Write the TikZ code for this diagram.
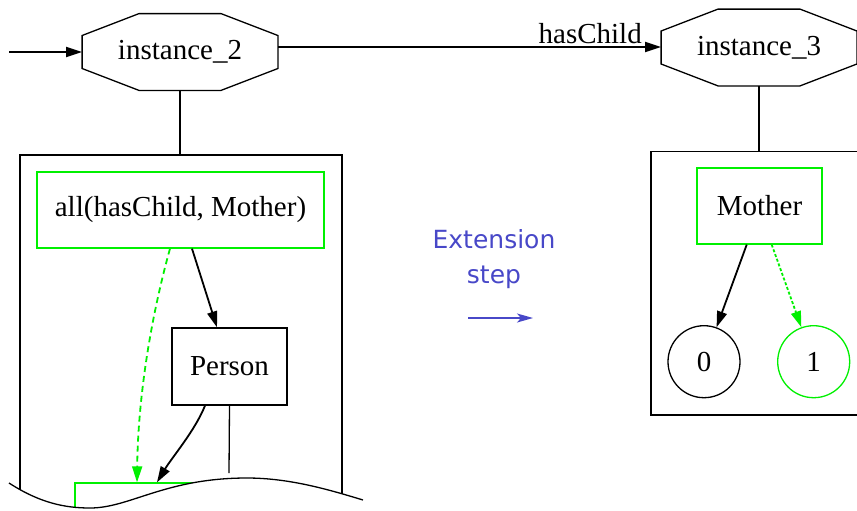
\documentclass[tikz,border=0pt]{standalone}
\usepackage{fontspec}
\setmainfont{Liberation Serif}
\newfontfamily\stepfont{DejaVu Sans}
\usepackage{tikz}
\usetikzlibrary{arrows.meta}
\definecolor{cutgreen}{RGB}{0,240,0}
\definecolor{stepblue}{RGB}{72,72,200}

% octagon frame around an instance node
\newcommand{\octframe}[1]{%
  \draw[frame] ([xshift=-20.5pt]#1.north) -- ([xshift=20.5pt]#1.north)
    -- ([yshift=8.25pt]#1.east) -- ([yshift=-8.25pt]#1.east)
    -- ([xshift=20.5pt]#1.south) -- ([xshift=-20.5pt]#1.south)
    -- ([yshift=-8.25pt]#1.west) -- ([yshift=8.25pt]#1.west) -- cycle;}

\begin{document}
\begin{tikzpicture}[x=0.5pt, y=-0.5pt,
    every node/.style={font=\fontsize{14.5}{17}\selectfont},
    frame/.style={line width=0.65pt},
    instance/.style={minimum width=97.5pt, minimum height=38pt, inner sep=0pt},
    cluster/.style={draw, line width=0.65pt, inner sep=0pt},
    concept/.style={draw=cutgreen, line width=0.65pt, inner sep=0pt},
    leaf/.style={circle, draw, line width=0.65pt, minimum size=36pt, inner sep=0pt},
    edge/.style={line width=0.9pt, -{Triangle[length=8pt, width=5pt]}}]
    \useasboundingbox (0,0) rectangle (857,510);

    % instances
    \node[instance] (inst2) at (180,52) {instance\_2};
    \node[instance] (inst3) at (759,47.5) {instance\_3};
    \octframe{inst2}
    \octframe{inst3}
    \coordinate (entry) at (9,52);
    \draw[edge] (entry) -- (inst2);
    \draw[edge] ([yshift=2.5pt]inst2.east) -- node[pos=0.815, above, inner sep=1pt] {hasChild} ([yshift=0.25pt]inst3.west);

    % left label tree, cut off at the bottom
    \node[cluster, minimum width=161pt, minimum height=182.5pt] (lefttree) at (181,337.5) {};
    \node[concept, minimum width=143.5pt, minimum height=38pt] (allnode) at (180.5,210) {all(hasChild, Mother)};
    \node[cluster, minimum width=57.5pt, minimum height=38.5pt] (person) at (229.5,366.5) {Person};
    \node[concept, minimum width=90pt, minimum height=35pt] (nextnode) at (165,518) {};
    \coordinate (persontail) at (229,473);
    \draw[frame] (inst2.south) -- (inst2.south |- lefttree.north);
    \draw[edge] ([xshift=5.75pt]allnode.south) -- ([xshift=-6.25pt]person.north);
    \draw[edge, cutgreen, dash pattern=on 3pt off 2pt] ([xshift=-5.25pt]allnode.south)
        .. controls +(-20,72) and +(1,-83) .. ([xshift=-14pt]nextnode.north);
    \draw[edge] ([xshift=-12.25pt]person.south) .. controls +(-10,25) and +(15,-25) .. ([xshift=-4pt]nextnode.north);
    \draw[frame] (person.south) -- (persontail);

    % torn edge
    \fill[white] (9,483) .. controls (40,503) and (65,508) .. (90,508)
        .. controls (130,508) and (165,478) .. (247,478)
        .. controls (290,478) and (330,490) .. (363,500) -- (363,540) -- (9,540) -- cycle;
    \draw[frame] (9,483) .. controls (40,503) and (65,508) .. (90,508)
        .. controls (130,508) and (165,478) .. (247,478)
        .. controls (290,478) and (330,490) .. (363,500);

    % right label tree
    \node[cluster, minimum width=103.5pt, minimum height=131.75pt] (righttree) at (754.5,283.25) {};
    \node[concept, minimum width=62.5pt, minimum height=38pt] (mother) at (759.5,206) {Mother};
    \node[leaf] (zero) at (704,361.7) {0};
    \node[leaf, draw=cutgreen] (one) at (813.7,361.7) {1};
    \draw[frame] (inst3.south) -- (inst3.south |- righttree.north);
    \draw[edge] ([xshift=-6.4pt]mother.south) -- (zero);
    \draw[edge, cutgreen, dash pattern=on 1.5pt off 1pt] ([xshift=6.1pt]mother.south) -- (one);

    % extension step
    \node[font=\stepfont\fontsize{12.5}{17.5}\selectfont, text=stepblue, align=center] (steplabel) at (494,259) {Extension\\step};
    \coordinate (stepA) at (468,318);
    \coordinate (stepB) at (533,318);
    \draw[stepblue, line width=0.75pt, -{Stealth[length=8pt, width=4.5pt, inset=2pt]}] (stepA) -- (stepB);
\end{tikzpicture}
\end{document}
